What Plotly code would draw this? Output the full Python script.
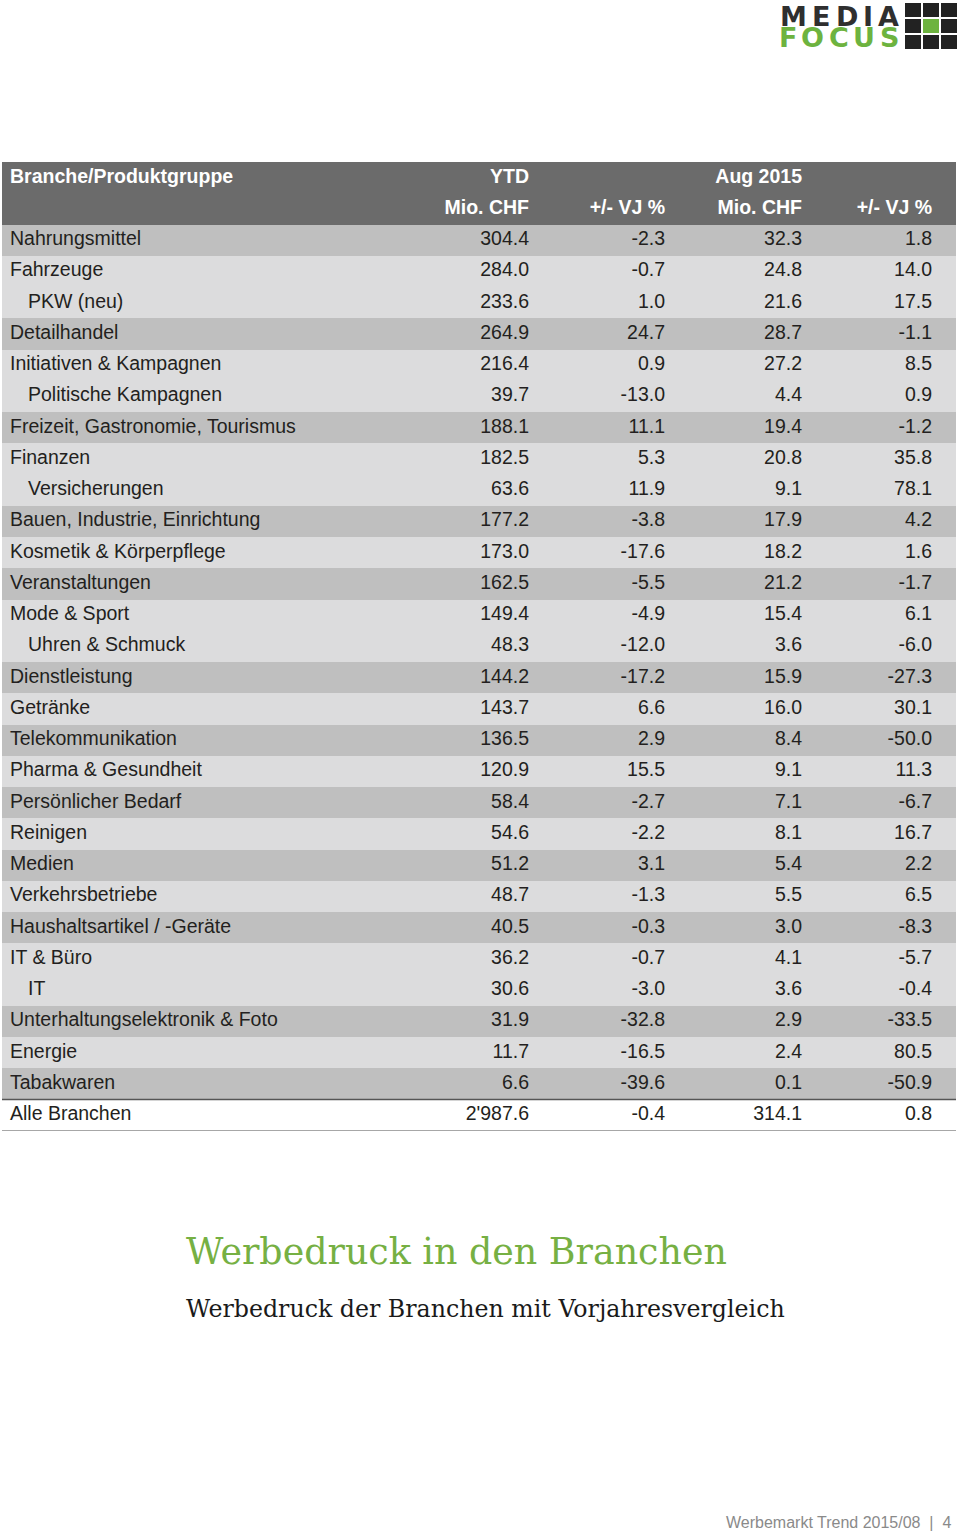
import plotly.graph_objects as go

W, H = 960, 1534

categories = ["Nahrungsmittel", "Fahrzeuge", "PKW (neu)", "Detailhandel", "Initiativen & Kampagnen",
              "Politische Kampagnen", "Freizeit, Gastronomie, Tourismus", "Finanzen", "Versicherungen",
              "Bauen, Industrie, Einrichtung", "Kosmetik & Körperpflege", "Veranstaltungen", "Mode & Sport",
              "Uhren & Schmuck", "Dienstleistung", "Getränke", "Telekommunikation", "Pharma & Gesundheit",
              "Persönlicher Bedarf", "Reinigen", "Medien", "Verkehrsbetriebe", "Haushaltsartikel / -Geräte",
              "IT & Büro", "IT", "Unterhaltungselektronik & Foto", "Energie", "Tabakwaren", "Alle Branchen"]
is_sub = [0, 0, 1, 0, 0, 1, 0, 0, 1, 0, 0, 0, 0, 1, 0, 0, 0, 0, 0, 0, 0, 0, 0, 0, 1, 0, 0, 0, 0]
ytd_mio = [304.4, 284.0, 233.6, 264.9, 216.4, 39.7, 188.1, 182.5, 63.6, 177.2, 173.0, 162.5, 149.4, 48.3,
           144.2, 143.7, 136.5, 120.9, 58.4, 54.6, 51.2, 48.7, 40.5, 36.2, 30.6, 31.9, 11.7, 6.6, 2987.6]
ytd_vj = [-2.3, -0.7, 1.0, 24.7, 0.9, -13.0, 11.1, 5.3, 11.9, -3.8, -17.6, -5.5, -4.9, -12.0,
          -17.2, 6.6, 2.9, 15.5, -2.7, -2.2, 3.1, -1.3, -0.3, -0.7, -3.0, -32.8, -16.5, -39.6, -0.4]
aug_mio = [32.3, 24.8, 21.6, 28.7, 27.2, 4.4, 19.4, 20.8, 9.1, 17.9, 18.2, 21.2, 15.4, 3.6,
           15.9, 16.0, 8.4, 9.1, 7.1, 8.1, 5.4, 5.5, 3.0, 4.1, 3.6, 2.9, 2.4, 0.1, 314.1]
aug_vj = [1.8, 14.0, 17.5, -1.1, 8.5, 0.9, -1.2, 35.8, 78.1, 4.2, 1.6, -1.7, 6.1, -6.0,
          -27.3, 30.1, -50.0, 11.3, -6.7, 16.7, 2.2, 6.5, -8.3, -5.7, -0.4, -33.5, 80.5, -50.9, 0.8]
header_row1 = ["Branche/Produktgruppe", "YTD", "", "Aug 2015", ""]
header_row2 = ["", "Mio. CHF", "+/- VJ %", "Mio. CHF", "+/- VJ %"]

DARK = "#bfbfbf"
LIGHT = "#dcdcdd"
HEAD = "#6b6b6b"
TXT = "#231f20"
FONT = "Liberation Sans, Arial, sans-serif"
FS = 19.5

# layout geometry (pixels)
TOP = 162
ROW = 31.25
X_LEFT, X_RIGHT = 2, 956
LABEL_X = 10
INDENT = 18
COL_RIGHT = [529, 665, 802, 932]


def fmt(v):
    return f"{v:,.1f}".replace(",", "'")


# row shading: main groups alternate, sub-rows share parent's shade, total row white
fills = []
shade = None
for i, sub in enumerate(is_sub):
    if i == len(is_sub) - 1:
        fills.append("#ffffff")
        continue
    if not sub:
        shade = DARK if shade != DARK else LIGHT
    fills.append(shade)

n_body = len(categories)
n_rows = n_body + 2
hdr_rows = [0, 1]
body_rows = list(range(2, n_rows))
bottom = TOP + ROW * n_rows

fig = go.Figure()

# row backgrounds
fig.add_trace(go.Bar(
    orientation="h", y=hdr_rows + body_rows, x=[X_RIGHT - X_LEFT] * n_rows, base=[X_LEFT] * n_rows,
    width=1, marker=dict(color=[HEAD, HEAD] + fills, line=dict(width=0)),
    hoverinfo="skip", showlegend=False,
))

# header texts
fig.add_trace(go.Scatter(
    x=[LABEL_X], y=[0], text=[header_row1[0]], mode="text", textposition="middle right",
    textfont=dict(family=FONT, size=FS, color="white", weight="bold"),
    hoverinfo="skip", showlegend=False, cliponaxis=False,
))
for j in range(4):
    rows, texts = [], []
    for r, t in ((0, header_row1[j + 1]), (1, header_row2[j + 1])):
        if t:
            rows.append(r)
            texts.append(t)
    fig.add_trace(go.Scatter(
        x=[COL_RIGHT[j]] * len(rows), y=rows, text=texts, mode="text", textposition="middle left",
        textfont=dict(family=FONT, size=FS, color="white", weight="bold"),
        hoverinfo="skip", showlegend=False, cliponaxis=False,
    ))

# category labels
fig.add_trace(go.Scatter(
    x=[LABEL_X + INDENT * s for s in is_sub], y=body_rows, text=categories,
    mode="text", textposition="middle right",
    textfont=dict(family=FONT, size=FS, color=TXT),
    hoverinfo="skip", showlegend=False, cliponaxis=False,
))

# numeric columns
for j, col in enumerate([ytd_mio, ytd_vj, aug_mio, aug_vj]):
    fig.add_trace(go.Scatter(
        x=[COL_RIGHT[j]] * n_body, y=body_rows, text=[fmt(v) for v in col],
        mode="text", textposition="middle left",
        textfont=dict(family=FONT, size=FS, color=TXT),
        hoverinfo="skip", showlegend=False, cliponaxis=False,
    ))

# separator lines under last category row and under total row
fig.add_shape(type="line", xref="x", yref="y", x0=X_LEFT, x1=X_RIGHT,
              y0=n_rows - 1.5, y1=n_rows - 1.5, line=dict(color="#555555", width=1.5))
fig.add_shape(type="line", xref="x", yref="y", x0=X_LEFT, x1=X_RIGHT,
              y0=n_rows - 0.5, y1=n_rows - 0.5, line=dict(color="#8a8a8a", width=1.5))

# titles
fig.add_annotation(text="Werbedruck in den Branchen", xref="paper", yref="paper",
                   x=184 / W, y=1 - 1251 / H, xanchor="left", yanchor="middle", showarrow=False,
                   font=dict(family="DejaVu Serif, Georgia, serif", size=36.4, color="#76b043"))
fig.add_annotation(text="Werbedruck der Branchen mit Vorjahresvergleich", xref="paper", yref="paper",
                   x=184 / W, y=1 - 1309 / H, xanchor="left", yanchor="middle", showarrow=False,
                   font=dict(family="DejaVu Serif, Georgia, serif", size=23.7, color="#1a1a1a"))
# footer
fig.add_annotation(text="Werbemarkt Trend 2015/08  |  4", xref="paper", yref="paper",
                   x=953 / W, y=1 - 1522 / H, xanchor="right", yanchor="middle", showarrow=False,
                   font=dict(family=FONT, size=16, color="#8a8a8a"))

# logo (letters placed individually to mimic the wide logotype)
media_x = [793, 821, 847, 868, 888.5]
focus_x = [788, 812.5, 838.5, 864, 889]
for ch, cx in zip("MEDIA", media_x):
    fig.add_annotation(text=ch, xref="paper", yref="paper", x=cx / W, y=1.0,
                       xanchor="center", yanchor="top", showarrow=False, borderpad=0,
                       font=dict(family="DejaVu Sans, sans-serif", size=27, color="#2f2f2f", weight="bold"))
for ch, cx in zip("FOCUS", focus_x):
    fig.add_annotation(text=ch, xref="paper", yref="paper", x=cx / W, y=1 - 37.5 / H,
                       xanchor="center", yanchor="middle", showarrow=False, borderpad=0,
                       font=dict(family="DejaVu Sans, sans-serif", size=27, color="#6db33f", weight="bold"))
sqw, sqh = 16, 14
gap = 2
ix0, iy0 = 905, 3
for r in range(3):
    for c in range(3):
        col = "#6db33f" if (r == 1 and c == 1) else "#222222"
        xa = ix0 + c * (sqw + gap)
        ya = iy0 + r * (sqh + gap)
        fig.add_shape(type="rect", xref="paper", yref="paper",
                      x0=xa / W, x1=(xa + sqw) / W, y0=1 - (ya + sqh) / H, y1=1 - ya / H,
                      fillcolor=col, line=dict(width=0))

fig.update_layout(
    width=W, height=H, margin=dict(l=0, r=0, t=0, b=0),
    paper_bgcolor="white", plot_bgcolor="white", bargap=0,
    xaxis=dict(visible=False, range=[0, W], domain=[0, 1], fixedrange=True),
    yaxis=dict(visible=False, range=[n_rows - 0.5, -0.5], domain=[1 - bottom / H, 1 - TOP / H],
               fixedrange=True),
)
fig.write_html("out.html", config={"displayModeBar": False},
               post_script="document.body.style.margin='0';document.body.style.overflow='hidden';")
